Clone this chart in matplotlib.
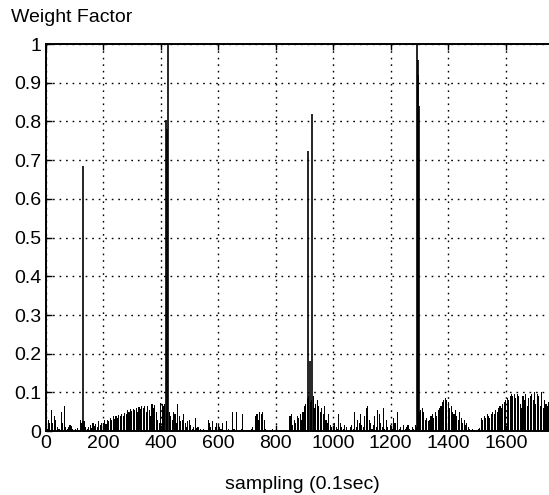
import numpy as np
import matplotlib
matplotlib.use("Agg")
import matplotlib.pyplot as plt

plt.rcParams['font.family'] = ['Liberation Sans', 'DejaVu Sans']

# background weight factor, one value every 5 samples starting at 0
step = 5
background = [
    0, 0.005, 0.03, 0.02, 0.055, 0.02, 0.04, 0.03, 0.01, 0.005,
    0.005, 0.05, 0.02, 0.065, 0.01, 0.005, 0.01, 0.015, 0.012, 0.005,
    0.003, 0.005, 0.008, 0.002, 0.03, 0.02, 0.025, 0.025, 0.01, 0.005,
    0.01, 0.015, 0.008, 0.02, 0.012, 0.018, 0.01, 0.025, 0.015, 0.02,
    0.022, 0.028, 0.018, 0.03, 0.025, 0.035, 0.03, 0.038, 0.032, 0.04,
    0.035, 0.042, 0.038, 0.045, 0.04, 0.048, 0.045, 0.055, 0.05, 0.057,
    0.052, 0.058, 0.055, 0.06, 0.05, 0.062, 0.058, 0.065, 0.06, 0.064,
    0.05, 0.065, 0.055, 0.04, 0.07, 0.06, 0.068, 0.05, 0.03, 0.02,
    0.072, 0.07, 0.065, 0.07, 0.045, 0.05, 0.05, 0.04, 0.03, 0.05,
    0.045, 0.02, 0.07, 0.04, 0.025, 0.03, 0.045, 0.02, 0.01, 0.025,
    0.03, 0.015, 0.005, 0.01, 0.035, 0.008, 0.01, 0.004, 0.005, 0.003,
    0.006, 0.002, 0.004, 0.03, 0.02, 0.01, 0.025, 0.003, 0.01, 0.02,
    0.015, 0.01, 0.005, 0.02, 0.003, 0.002, 0.025, 0.005, 0.002, 0.001,
    0.05, 0.005, 0.003, 0.05, 0.002, 0.002, 0.005, 0.045, 0.002, 0.001,
    0.002, 0.002, 0.003, 0.005, 0.01, 0.003, 0.04, 0.045, 0.03, 0.05,
    0.045, 0.05, 0.03, 0.005, 0.002, 0.001, 0.001, 0.003, 0.005, 0.001,
    0.001, 0.001, 0.003, 0.002, 0.001, 0.001, 0.001, 0.001, 0.002, 0.001,
    0.04, 0.045, 0.015, 0.03, 0.02, 0.04, 0.035, 0.045, 0.03, 0.05,
    0.065, 0.07, 0.085, 0.09, 0.075, 0.08, 0.09, 0.06, 0.07, 0.08,
    0.065, 0.05, 0.06, 0.045, 0.065, 0.03, 0.02, 0.045, 0.015, 0.01,
    0.005, 0.02, 0.01, 0.005, 0.045, 0.02, 0.01, 0.005, 0.015, 0.01,
    0.002, 0.003, 0.01, 0.015, 0.005, 0.05, 0.01, 0.03, 0.02, 0.045,
    0.015, 0.01, 0.04, 0.06, 0.065, 0.03, 0.02, 0.005, 0.015, 0.04,
    0.01, 0.055, 0.045, 0.02, 0.01, 0.06, 0.005, 0.03, 0.01, 0.002,
    0.015, 0.005, 0.035, 0.02, 0.002, 0.05, 0.005, 0.01, 0.002, 0.015,
    0.005, 0.01, 0.015, 0.005, 0.002, 0.01, 0.005, 0.015, 0.01, 0.06,
    0.05, 0.055, 0.06, 0.05, 0.03, 0.035, 0.025, 0.03, 0.04, 0.045,
    0.035, 0.05, 0.04, 0.055, 0.06, 0.065, 0.075, 0.08, 0.085, 0.08,
    0.075, 0.06, 0.065, 0.05, 0.045, 0.055, 0.04, 0.03, 0.05, 0.035,
    0.02, 0.03, 0.015, 0.02, 0.01, 0.005, 0.003, 0.005, 0.002, 0.001,
    0.003, 0.005, 0.008, 0.035, 0.03, 0.04, 0.035, 0.045, 0.04, 0.035,
    0.045, 0.05, 0.045, 0.055, 0.05, 0.06, 0.065, 0.06, 0.07, 0.075,
    0.08, 0.085, 0.08, 0.09, 0.095, 0.09, 0.095, 0.085, 0.095, 0.09,
    0.07, 0.06, 0.09, 0.08, 0.095, 0.065, 0.085, 0.09, 0.095, 0.08,
    0.1, 0.07, 0.095, 0.09, 0.065, 0.1, 0.06, 0.08, 0.07, 0.065,
    0.075, 0.06, 0.065, 0.07, 0.06, 0.065, 0.06,
]
background_x = [i * step for i in range(len(background))]

# isolated large spikes (sample index, weight)
spike_x = [131, 420, 423, 426, 914, 920, 925, 1292, 1294, 1296, 1299]
spike_y = [0.685, 0.805, 0.78, 1.0, 0.725, 0.18, 0.82, 1.0, 0.92, 0.96, 0.84]

x_ticks = [0, 200, 400, 600, 800, 1000, 1200, 1400, 1600]
y_ticks = [0, 0.1, 0.2, 0.3, 0.4, 0.5, 0.6, 0.7, 0.8, 0.9, 1]
y_ticklabels = ['0', '0.1', '0.2', '0.3', '0.4', '0.5', '0.6', '0.7', '0.8', '0.9', '1']

fig = plt.figure(figsize=(5.49, 4.95), dpi=100)
ax = fig.add_axes([0.083, 0.129, 0.943, 0.782])

ax.bar(background_x, background, width=3.8, color='black', linewidth=0, zorder=3)
ax.vlines(spike_x, 0, spike_y, color='black', linewidth=1.2, zorder=3)

ax.set_xlim(0, 1800)
ax.set_ylim(0, 1)
ax.set_xticks(x_ticks)
ax.set_xticklabels([str(t) for t in x_ticks])
ax.set_yticks(y_ticks)
ax.set_yticklabels(y_ticklabels)
ax.tick_params(direction='in', length=4, width=1, labelsize=14, top=True, right=True,
               pad=3)
for sp in ax.spines.values():
    sp.set_linewidth(1.4)
ax.grid(True, color='black', linestyle=(0, (1.2, 3.5)), linewidth=1.0, zorder=1)

fig.text(0.02, 0.965, 'Weight Factor', fontsize=14, ha='left', va='center')
fig.text(0.55, 0.022, 'sampling (0.1sec)', fontsize=14, ha='center', va='center')

fig.savefig('out.png', dpi=100)
